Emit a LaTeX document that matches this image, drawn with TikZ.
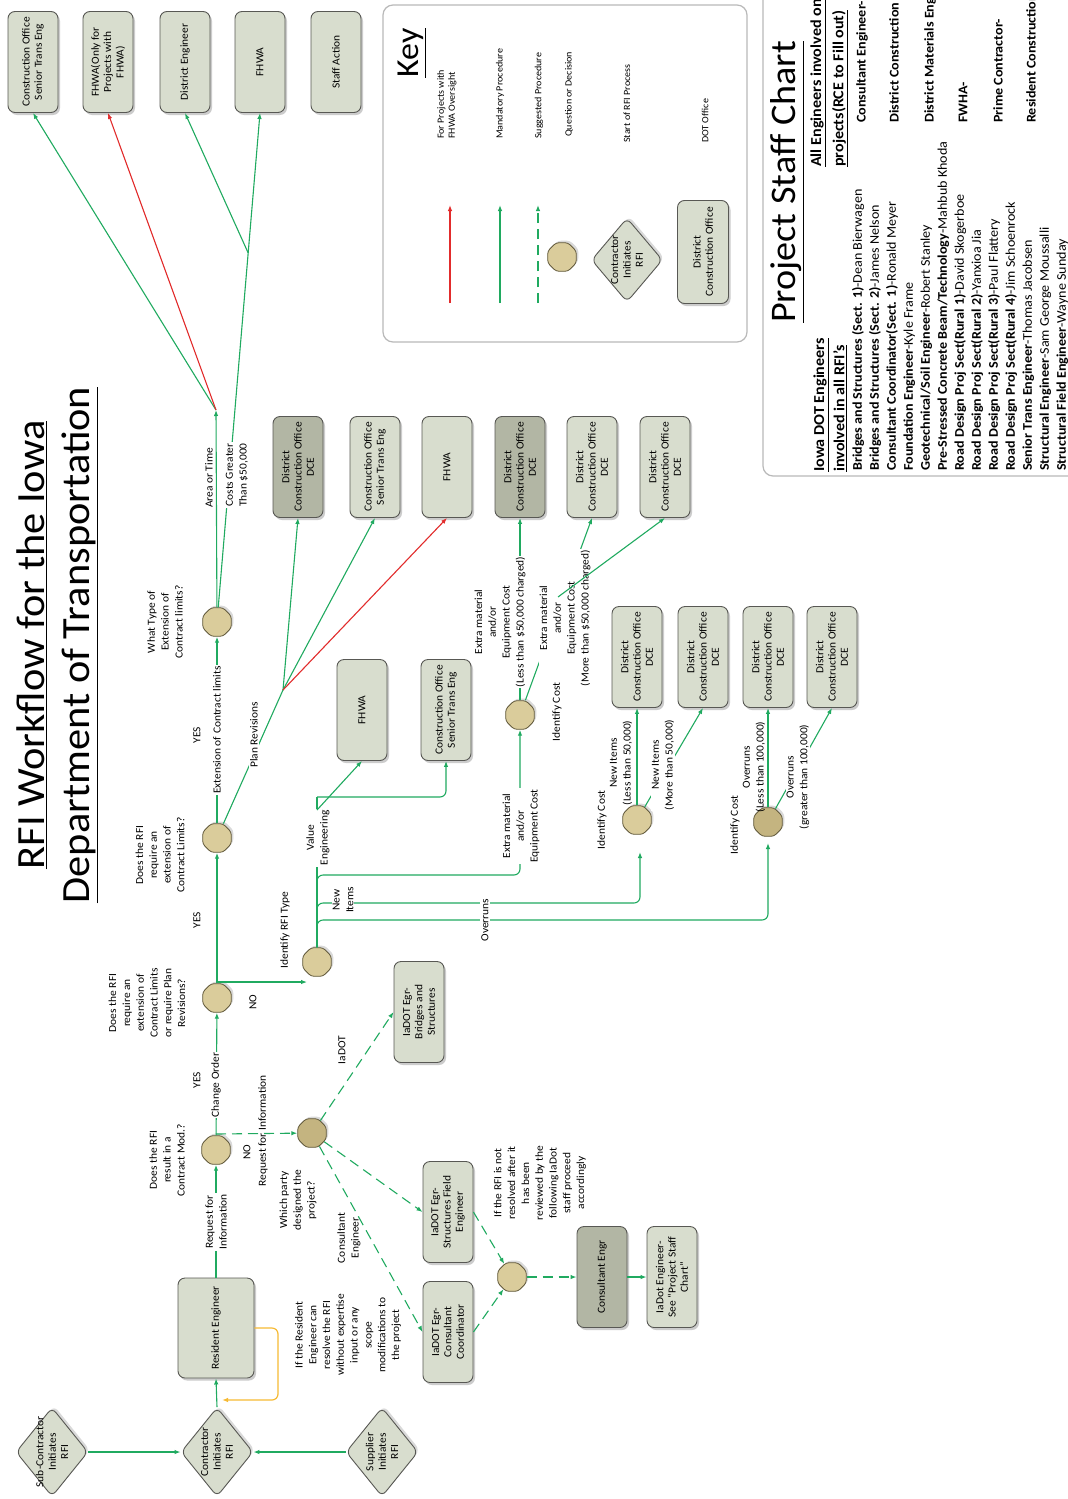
\documentclass[tikz,border=0pt]{standalone}
\usepackage{fontspec}
\setmainfont{Carlito}[FakeStretch=1.06]
\usetikzlibrary{arrows.meta,shapes.geometric,shadows,calc}
\definecolor{boxfill}{RGB}{216,221,206}
\definecolor{boxdark}{RGB}{178,182,164}
\definecolor{boxline}{RGB}{88,88,84}
\definecolor{decfill}{RGB}{218,204,155}
\definecolor{decdark}{RGB}{196,180,128}
\definecolor{decline}{RGB}{98,90,60}
\definecolor{grn}{RGB}{32,170,96}
\definecolor{rd}{RGB}{226,44,44}
\definecolor{yel}{RGB}{246,186,52}
\newcommand\boxfont{\fontsize{10.8}{12.3}\selectfont}
\newcommand\lblfont{\fontsize{10.8}{13.8}\selectfont}
\newcommand\keyfont{\fontsize{9.5}{11}\selectfont}
\newcommand\stafffont{\fontsize{13.3}{17}\selectfont}
\newcommand\hdfont{\fontsize{15.2}{17}\selectfont}
\begin{document}
\begin{tikzpicture}[x=1pt,y=-1pt,
  box/.style={draw=boxline, line width=0.9pt, fill=boxfill, rounded corners=7pt, rotate=90,
    minimum width=101pt, minimum height=50pt, align=center, font=\boxfont, inner sep=1pt,
    general shadow={fill=black!20, shadow xshift=2pt, shadow yshift=-2.5pt}},
  darkbox/.style={box, fill=boxdark},
  dec/.style={regular polygon, regular polygon sides=8, minimum size=31pt, inner sep=0pt,
    draw=decline, line width=0.8pt, fill=decfill, rounded corners=3pt,
    general shadow={fill=black!15, shadow xshift=2pt, shadow yshift=2pt}},
  decd/.style={dec, fill=decdark},
  dia/.style={diamond, minimum width=72pt, minimum height=89pt, inner sep=0pt, draw=boxline,
    line width=0.9pt, fill=boxfill, rounded corners=6pt,
    general shadow={fill=black!15, shadow xshift=2pt, shadow yshift=2pt}},
  lbl/.style={rotate=90, font=\lblfont, align=center, inner sep=1pt},
  lblw/.style={lbl, fill=white},
  keytxt/.style={rotate=90, font=\keyfont, anchor=west, align=left, inner sep=0pt},
  staff/.style={rotate=90, font=\stafffont, anchor=west, align=left, inner sep=0pt},
  g/.style={draw=grn, line width=1.1pt},
  ga/.style={g, -{Latex[length=6pt,width=4.5pt]}},
  gd/.style={ga, dash pattern=on 10pt off 6pt},
  ra/.style={draw=rd, line width=1.1pt, -{Latex[length=6pt,width=4.5pt]}}
]
\useasboundingbox (0,0) rectangle (1068,1499);
\clip (0,0) rectangle (1068,1499);
\fill[white] (0,0) rectangle (1068,1499);

% Title
\node[rotate=90, font=\fontsize{40}{45}\selectfont, align=center] (title) at (57,645)
  {\underline{RFI Workflow for the Iowa}\\\underline{Department of Transportation}};

% Top row
\node[box] (t1) at (33,62) {Construction Office\\Senior Trans Eng};
\node[box] (t2) at (108,62) {FHWA(Only for\\Projects with\\FHWA)};
\node[box] (t3) at (185,62) {District Engineer};
\node[box] (t4) at (260,62) {FHWA};
\node[box] (t5) at (336,62) {Staff Action};

% Middle row
\node[darkbox] (m1) at (298,467) {District\\Construction Office\\DCE};
\node[box] (m2) at (375,467) {Construction Office\\Senior Trans Eng};
\node[box] (m3) at (447,467) {FHWA};
\node[darkbox] (m4) at (520,467) {District\\Construction Office\\DCE};
\node[box] (m5) at (592,467) {District\\Construction Office\\DCE};
\node[box] (m6) at (665,467) {District\\Construction Office\\DCE};

\node[box] (s1) at (362,710) {FHWA};
\node[box] (s2) at (446,710) {Construction Office\\Senior Trans Eng};

\node[box] (m7) at (637,657) {District\\Construction Office\\DCE};
\node[box] (m8) at (703,657) {District\\Construction Office\\DCE};
\node[box] (m9) at (768,657) {District\\Construction Office\\DCE};
\node[box] (m10) at (832,657) {District\\Construction Office\\DCE};

% Lower boxes
\node[box] (b1) at (419,1012) {IaDOT Egr-\\Bridges and\\Structures};
\node[box] (b2) at (448,1212) {IaDOT Egr-\\Structures Field\\Engineer};
\node[box] (b3) at (448,1332) {IaDOT Egr-\\Consultant\\Coordinator};
\node[darkbox] (ce) at (602,1277) {Consultant Engr};
\node[box] (ie) at (672,1277) {IaDot Engineer-\\See “Project Staff\\Chart”};
\node[box, minimum width=100pt, minimum height=76pt] (re) at (216,1328) {Resident Engineer};

% Diamonds
\node[dia] (sub) at (52,1452) {};
\node[lbl, font=\boxfont, inner sep=0pt] (subt) at (52,1452) {Sub-Contractor\\Initiates\\RFI};
\node[dia] (con) at (217,1452) {};
\node[lbl, font=\boxfont, inner sep=0pt] (cont) at (217,1452) {Contractor\\Initiates\\RFI};
\node[dia] (sup) at (382,1452) {};
\node[lbl, font=\boxfont, inner sep=0pt] (supt) at (382,1452) {Supplier\\Initiates\\RFI};

% Decisions
\node[dec] (d1) at (217,622) {};
\node[dec] (d2) at (217,838) {};
\node[dec] (d3) at (217,998) {};
\node[dec] (d4) at (317,962) {};
\node[dec] (d5) at (216,1150) {};
\node[decd] (d6) at (312,1133) {};
\node[dec] (d7) at (520,715) {};
\node[dec] (d8) at (637,820) {};
\node[decd] (d9) at (768,822) {};
\node[dec] (d10) at (512,1277) {};

% Bottom connectors
\draw[ga] (sub.east) -- (con.west);
\draw[ga] (sup.west) -- (con.east);
\draw[ga] (con.north) -- (re.west);
\coordinate (y1) at (278,1328);
\coordinate (y2) at (278,1400);
\coordinate (y3) at (222,1400);
\draw[draw=yel, line width=1.2pt, rounded corners=6pt, -{Latex[length=6pt,width=4.5pt]}] (re.south) -- (y1) -- (y2) -- (y3);
\draw[ga] (re.east) -- (d5);
\node[lblw] at (216,1222) {Request for\\Information};

% D5
\draw[ga] (d5) -- (d3);
\node[lblw] at (216,1085) {Change Order};
\node[lbl] at (197,1080) {YES};
\node[lbl] at (167,1160) {Does the RFI\\result in a\\Contract Mod.?};
\coordinate (d5b) at (216,1134);
\draw[gd] (d5b) -- (d6);
\node[lbl] at (247,1152) {NO};
\node[lbl] at (263,1131) {Request for Information};

% D6
\draw[gd] (d6) -- (b1.north);
\draw[gd] (d6) -- (b2.north);
\draw[gd] (d6) -- (b3.north);
\node[lbl] at (342,1050) {IaDOT};
\node[lbl] at (349,1238) {Consultant\\Engineer};
\node[lbl] at (298,1200) {Which party\\designed the\\project?};
\node[lbl] at (348,1335) {If the Resident\\Engineer can\\resolve the RFI\\without expertise\\input or any\\scope\\modifications to\\the project};
\draw[gd] (b2.south) -- (d10);
\draw[gd] (b3.south) -- (d10);
\draw[gd] (d10) -- (ce.north);
\draw[ga] (ce.south) -- (ie.north);
\node[lbl] at (540,1183) {If the RFI is not\\resolved after it\\has been\\reviewed by the\\following IaDot\\staff proceed\\accordingly};

% D3
\draw[ga] (d3) -- (d2);
\node[lbl] at (197,920) {YES};
\coordinate (d3b) at (217,982);
\coordinate (d4in) at (307,982);
\draw[ga] (d3b) -- (d4in);
\node[lbl] at (253,1002) {NO};
\node[lbl] at (285,930) {Identify RFI Type};
\node[lbl] at (147,1003) {Does the RFI\\require an\\extension of\\Contract Limits\\or require Plan\\Revisions?};

% D2
\draw[ga] (d2) -- (d1);
\node[lblw] at (217,730) {Extension of Contract limits};
\node[lbl] at (197,735) {YES};
\node[lbl] at (160,855) {Does the RFI\\require an\\extension of\\Contract Limits?};
\coordinate (fanC) at (283,690);
\draw[g] (d2) -- (fanC);
\node[lblw] at (254,735) {Plan Revisions};
\draw[ga] (fanC) -- (m1.west);
\draw[ga] (fanC) -- (m2.west);
\draw[ra] (fanC) -- (m3.west);

% D1
\coordinate (fanA) at (216,410);
\draw[ga] (d1) -- (fanA);
\draw[ga] (fanA) -- (t1.west);
\draw[ra] (fanA) -- (t2.west);
\draw[ga] (d1) -- (t4.west);
\coordinate (fanB) at ($(d1.center)!0.725!(t4.west)$);
\draw[ga] (fanB) -- (t3.west);
\node[lbl] at (165,622) {What Type of\\Extension of\\Contract limits?};
\node[lbl] at (209,478) {Area or Time};
\node[lblw] at (237,475) {Costs Greater\\Than \$50,000};

% D4
\coordinate (ve1) at (317,810);
\coordinate (ve2) at (317,797);
\draw[g] (d4) -- (ve2);
\node[lblw] at (318,838) {Value\\Engineering};
\draw[ga] (ve1) -- (s1.west);
\draw[ga, rounded corners=6pt] (ve2) -- (s2.west |- ve2) -- (s2.west);
\coordinate (br1) at (520,875);
\coordinate (br2) at (640,903);
\coordinate (br3) at (768,920);
\coordinate (d8in) at (640,852);
\coordinate (d9in) at (768,843);
\draw[ga, rounded corners=6pt] (d4) |- (br1) -- (d7);
\draw[ga, rounded corners=6pt] (d4) |- (br2) -- (d8in);
\draw[ga, rounded corners=6pt] (d4) |- (br3) -- (d9in);
\node[lblw] at (521,826) {Extra material\\and/or\\Equipment Cost};
\node[lblw] at (343,900) {New\\Items};
\node[lblw] at (485,920) {Overruns};

% D7
\draw[ga] (d7) -- (m4.west);
\node[lblw] at (500,622) {Extra material\\and/or\\Equipment Cost\\(Less than \$50,000 charged)};
\draw[ga] (d7) -- (m5.west);
\node[lblw] at (565,618) {Extra material\\and/or\\Equipment Cost\\(More than \$50,000 charged)};
\coordinate (em) at (558,597);
\draw[ga] (em) -- (m6.west);
\node[lbl] at (557,712) {Identify Cost};

% D8
\draw[ga] (d8) -- (m7.west);
\node[lbl] at (621,763) {New Items\\(Less than 50,000)};
\draw[ga] (d8) -- (m8.west);
\node[lblw] at (663,765) {New Items\\(More than 50,000)};
\node[lbl] at (602,820) {Identify Cost};

% D9
\draw[ga] (d9) -- (m9.west);
\node[lbl] at (754,767) {Overruns\\(Less than 100,000)};
\draw[ga] (d9) -- (m10.west);
\node[lblw] at (798,777) {Overruns\\(greater than 100,000)};
\node[lbl] at (735,825) {Identify Cost};

% Key
\draw[gray!55, line width=1.2pt, rounded corners=10pt] (383,5) rectangle (747,342);
\node[rotate=90, font=\fontsize{32}{32}\selectfont, inner sep=0pt] (keyt) at (412,53) {\underline{Key}};
\coordinate (k1a) at (450,303); \coordinate (k1b) at (450,205);
\coordinate (k2a) at (500,303); \coordinate (k2b) at (500,205);
\coordinate (k3a) at (538,303); \coordinate (k3b) at (538,205);
\draw[ra] (k1a) -- (k1b);
\draw[ga] (k2a) -- (k2b);
\draw[gd] (k3a) -- (k3b);
\node[dec] (kd) at (562,257) {};
\node[dia, minimum width=71pt, minimum height=84pt] (kdia) at (627,260) {};
\node[lbl, font=\boxfont, inner sep=0pt] (kdiat) at (627,260) {Contractor\\Initiates\\RFI};
\node[box, minimum width=103pt, minimum height=51pt] (kbox) at (703,252) {District\\Construction Office};
\node[keytxt] at (447,139) {For Projects with\\FHWA Oversight};
\node[keytxt] at (500,139) {Mandatory Procedure};
\node[keytxt] at (539,139) {Suggested Procedure};
\node[keytxt] at (569,137) {Question or Decision};
\node[keytxt] at (627,143) {Start of RFI Process};
\node[keytxt] at (705,143) {DOT Office};

% Project staff chart
\draw[gray!55, line width=1.2pt, rounded corners=10pt] (763,-30) rectangle (1100,476);
\node[rotate=90, font=\fontsize{36}{36}\selectfont, inner sep=0pt] (pst) at (787,182) {\underline{Project Staff Chart}};
\node[staff, font=\hdfont] (h1) at (821,472) {\underline{\textbf{Iowa DOT Engineers}}};
\node[staff, font=\hdfont] (h2) at (840,472) {\underline{\textbf{involved in all RFI’s}}};
\node[staff] (list) at (960,471) {%
\textbf{Bridges and Structures (Sect. 1)}-Dean Bierwagen\\
\textbf{Bridges and Structures (Sect. 2)}-James Nelson\\
\textbf{Consultant Coordinator(Sect. 1)}-Ronald Meyer\\
\textbf{Foundation Engineer}-Kyle Frame\\
\textbf{Geotechnical/Soil Engineer}-Robert Stanley\\
\textbf{Pre-Stressed Concrete Beam/Technology}-Mahbub Khoda\\
\textbf{Road Design Proj Sect(Rural 1)}-David Skogerboe\\
\textbf{Road Design Proj Sect(Rural 2)}-Yanxioa Jia\\
\textbf{Road Design Proj Sect(Rural 3)}-Paul Flattery\\
\textbf{Road Design Proj Sect(Rural 4)}-Jim Schoenrock\\
\textbf{Senior Trans Engineer}-Thomas Jacobsen\\
\textbf{Structural Engineer}-Sam George Moussalli\\
\textbf{Structural Field Engineer}-Wayne Sunday};
\node[staff, font=\hdfont] (h3) at (818,167) {\underline{\textbf{All Engineers involved on}}};
\node[staff, font=\hdfont] (h4) at (840,167) {\underline{\textbf{projects(RCE to Fill out)}}};
\node[staff] at (862,123) {\textbf{Consultant Engineer-}};
\node[staff] at (895,123) {\textbf{District Construction Engineer-}};
\node[staff] at (930,123) {\textbf{District Materials Engineer-}};
\node[staff] at (963,123) {\textbf{FWHA-}};
\node[staff] at (998,123) {\textbf{Prime Contractor-}};
\node[staff] at (1032,123) {\textbf{Resident Construction Engineer-}};
\end{tikzpicture}
\end{document}
